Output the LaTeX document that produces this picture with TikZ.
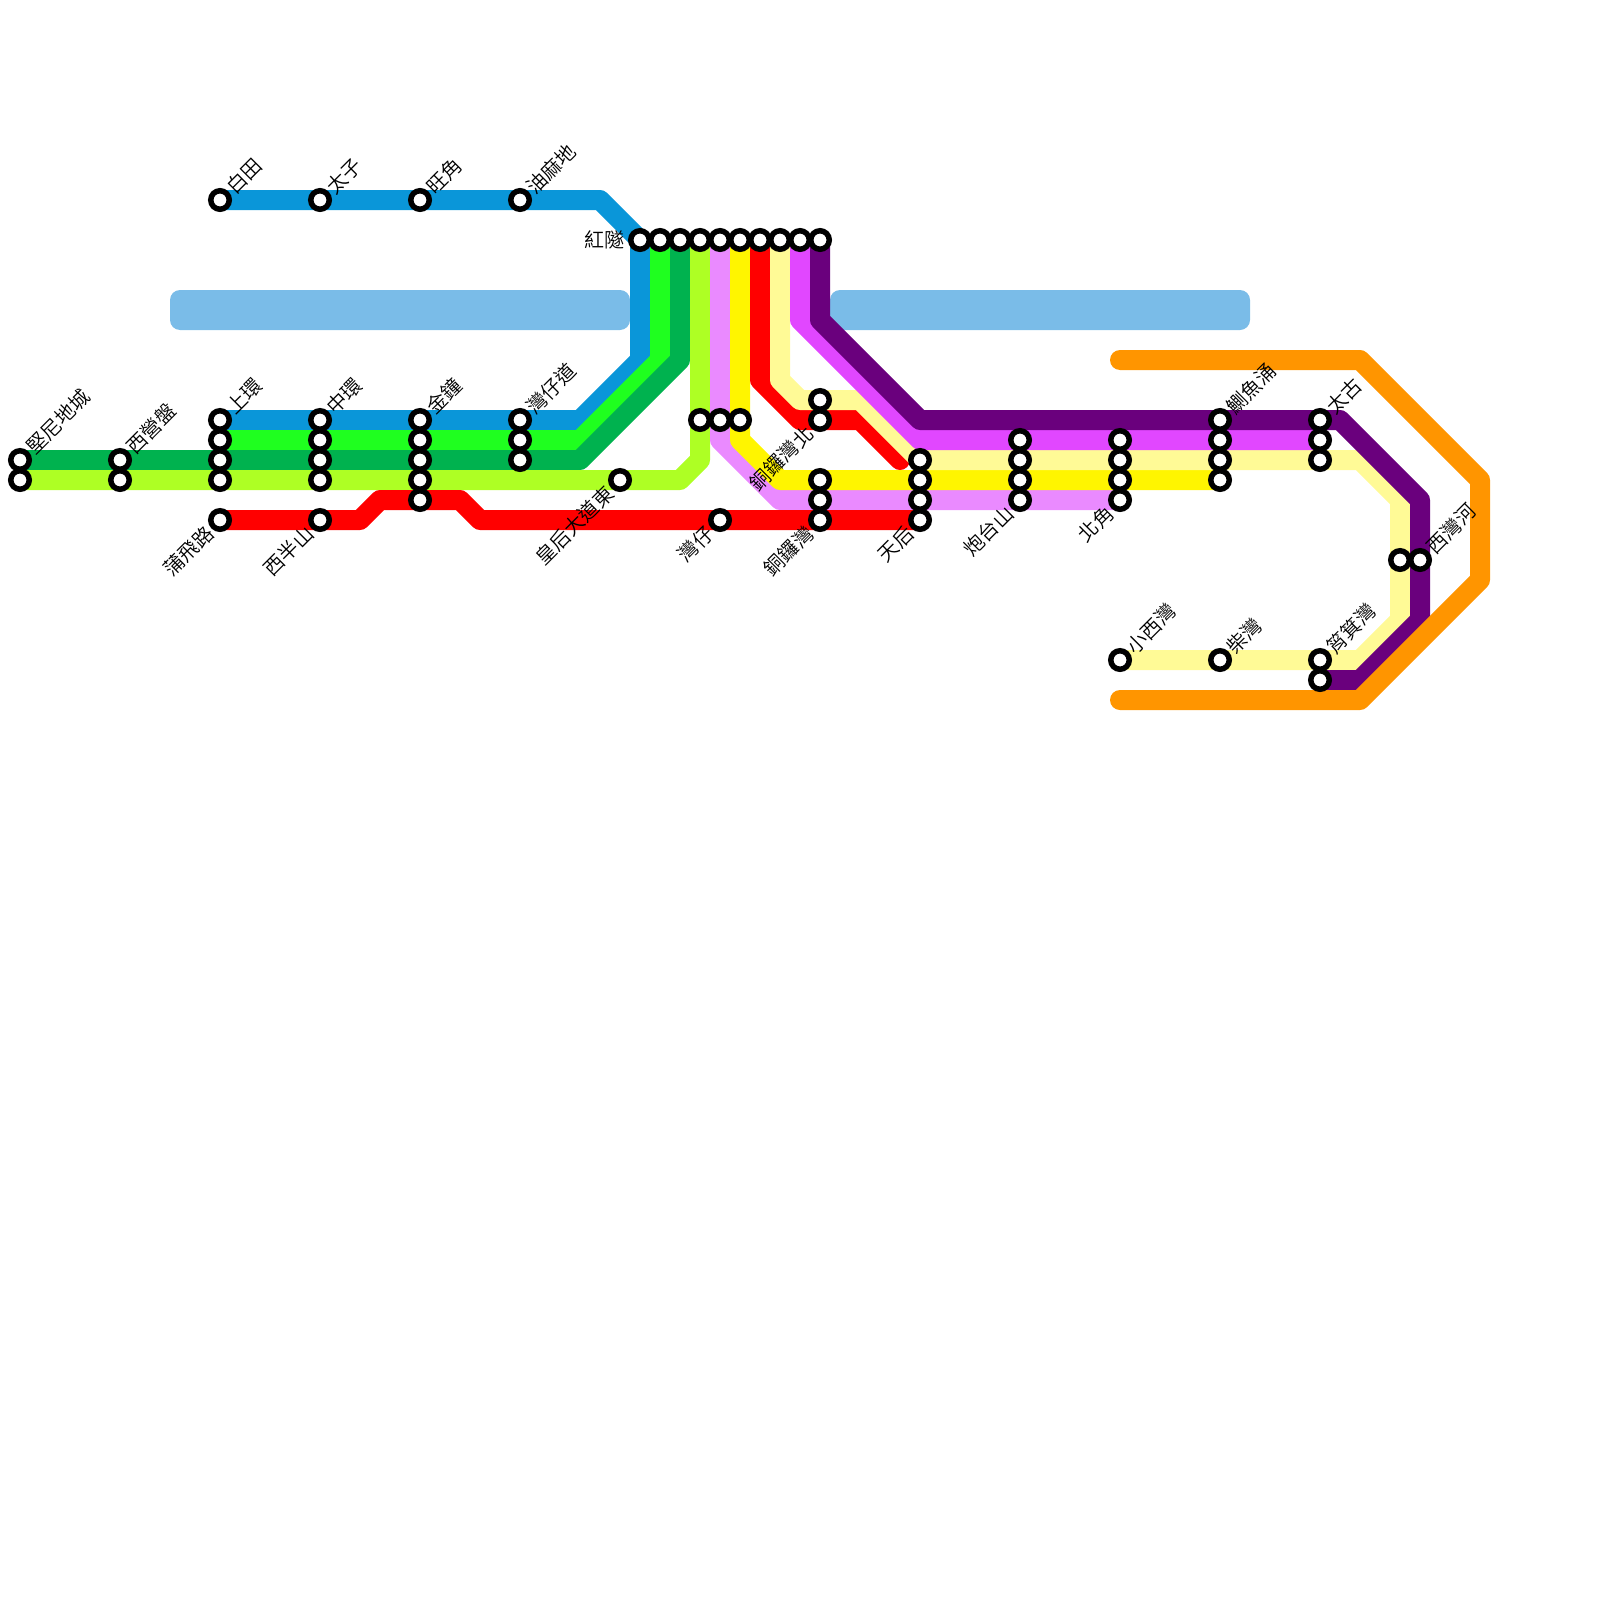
\documentclass[tikz,border=0pt]{standalone}
\usepackage{fontspec}
\setmainfont{Noto Sans CJK TC}[UprightFont=* DemiLight]
\usetikzlibrary{positioning, backgrounds}
\definecolor{lineblue}{HTML}{0A96D9}
\definecolor{linegreen}{HTML}{1FFF1F}
\definecolor{linedark}{HTML}{00B24F}
\definecolor{linelime}{HTML}{AEFF24}
\definecolor{linepink}{HTML}{EA8AFF}
\definecolor{lineyellow}{HTML}{FFF500}
\definecolor{linered}{HTML}{FF0000}
\definecolor{linepale}{HTML}{FFFA96}
\definecolor{linemagenta}{HTML}{E147FF}
\definecolor{linepurple}{HTML}{6A007D}
\definecolor{lineorange}{HTML}{FF9500}
\definecolor{waterbar}{HTML}{7ABCE8}
\tikzstyle{station} = [circle, draw=black, line width=5.5pt, fill=white, minimum size=18.5pt, inner sep=0pt]
\tikzstyle{metro} = [line width=20pt, line join=round, line cap=round]
\tikzstyle{bar} = [rectangle, fill=waterbar, rounded corners=10pt, minimum height=40pt]
\tikzstyle{labup} = [font=\fontsize{20}{24}\selectfont, inner sep=0pt, rotate=45, anchor=west]
\tikzstyle{labdown} = [font=\fontsize{20}{24}\selectfont, inner sep=0pt, rotate=45, anchor=east]
\tikzstyle{lableft} = [font=\fontsize{20}{24}\selectfont, inner sep=0pt, anchor=east]

\begin{document}
\begin{tikzpicture}[x=1pt, y=-1pt, on grid, node distance=20pt]
    \useasboundingbox (0,0) rectangle (1600,1600);
    % top row
    \node[station] (baitian) at (220,200) {};
    \node[station, right=100pt of baitian] (taizi) {};
    \node[station, right=100pt of taizi] (wangjiao) {};
    \node[station, right=100pt of wangjiao] (youma) {};
    % tunnel
    \node[station] (tunA) at (640,240) {};
    \node[station, right=of tunA] (tunB) {};
    \node[station, right=of tunB] (tunC) {};
    \node[station, right=of tunC] (tunD) {};
    \node[station, right=of tunD] (tunE) {};
    \node[station, right=of tunE] (tunF) {};
    \node[station, right=of tunF] (tunG) {};
    \node[station, right=of tunG] (tunH) {};
    \node[station, right=of tunH] (tunI) {};
    \node[station, right=of tunI] (tunJ) {};
    % island west
    \node[station] (jianA) at (20,460) {};
    \node[station, below=of jianA] (jianB) {};
    \node[station, right=100pt of jianA] (yingA) {};
    \node[station, below=of yingA] (yingB) {};
    \node[station] (shangA) at (220,420) {};
    \node[station, below=of shangA] (shangB) {};
    \node[station, below=of shangB] (shangC) {};
    \node[station, below=of shangC] (shangD) {};
    \node[station, below=40pt of shangD] (pufei) {};
    \node[station, right=100pt of shangA] (zhongA) {};
    \node[station, below=of zhongA] (zhongB) {};
    \node[station, below=of zhongB] (zhongC) {};
    \node[station, below=of zhongC] (zhongD) {};
    \node[station, below=40pt of zhongD] (xiban) {};
    \node[station, right=100pt of zhongA] (jinA) {};
    \node[station, below=of jinA] (jinB) {};
    \node[station, below=of jinB] (jinC) {};
    \node[station, below=of jinC] (jinD) {};
    \node[station, below=of jinD] (jinE) {};
    \node[station, right=100pt of jinA] (wanA) {};
    \node[station, below=of wanA] (wanB) {};
    \node[station, below=of wanB] (wanC) {};
    \node[station] (huang) at (620,480) {};
    % causeway
    \node[station] (midA) at (700,420) {};
    \node[station, right=of midA] (midB) {};
    \node[station, right=of midB] (midC) {};
    \node[station] (wanzai) at (720,520) {};
    \node[station] (northA) at (820,400) {};
    \node[station, below=of northA] (northB) {};
    \node[station] (tongA) at (820,480) {};
    \node[station, below=of tongA] (tongB) {};
    \node[station, below=of tongB] (tongC) {};
    \node[station] (tianA) at (920,460) {};
    \node[station, below=of tianA] (tianB) {};
    \node[station, below=of tianB] (tianC) {};
    \node[station, below=of tianC] (tianD) {};
    % island east
    \node[station] (paoA) at (1020,440) {};
    \node[station, below=of paoA] (paoB) {};
    \node[station, below=of paoB] (paoC) {};
    \node[station, below=of paoC] (paoD) {};
    \node[station, right=100pt of paoA] (beiA) {};
    \node[station, below=of beiA] (beiB) {};
    \node[station, below=of beiB] (beiC) {};
    \node[station, below=of beiC] (beiD) {};
    \node[station] (zeA) at (1220,420) {};
    \node[station, below=of zeA] (zeB) {};
    \node[station, below=of zeB] (zeC) {};
    \node[station, below=of zeC] (zeD) {};
    \node[station, right=100pt of zeA] (taiA) {};
    \node[station, below=of taiA] (taiB) {};
    \node[station, below=of taiB] (taiC) {};
    \node[station] (xiwanA) at (1400,560) {};
    \node[station, right=of xiwanA] (xiwanB) {};
    \node[station] (xiaoxi) at (1120,660) {};
    \node[station, right=100pt of xiaoxi] (chaiwan) {};
    \node[station, right=100pt of chaiwan] (shaoA) {};
    \node[station, below=of shaoA] (shaoB) {};
    % bends
    \coordinate (blueA) at (600,200);
    \coordinate (blueB) at (640,360);
    \coordinate (blueC) at (580,420);
    \coordinate (greenA) at (660,360);
    \coordinate (greenB) at (580,440);
    \coordinate (darkA) at (680,360);
    \coordinate (darkB) at (580,460);
    \coordinate (limeA) at (700,460);
    \coordinate (limeB) at (680,480);
    \coordinate (pinkA) at (720,440);
    \coordinate (pinkB) at (780,500);
    \coordinate (yellowA) at (740,440);
    \coordinate (yellowB) at (780,480);
    \coordinate (redA) at (360,520);
    \coordinate (redB) at (380,500);
    \coordinate (redC) at (460,500);
    \coordinate (redD) at (480,520);
    \coordinate (redE) at (760,380);
    \coordinate (redF) at (800,420);
    \coordinate (redG) at (860,420);
    \coordinate (redH) at (900,460);
    \coordinate (paleA) at (780,380);
    \coordinate (paleB) at (800,400);
    \coordinate (paleC) at (860,400);
    \coordinate (paleD) at (1360,460);
    \coordinate (paleE) at (1400,500);
    \coordinate (paleF) at (1400,620);
    \coordinate (paleG) at (1360,660);
    \coordinate (magA) at (800,320);
    \coordinate (magB) at (920,440);
    \coordinate (purpleA) at (820,320);
    \coordinate (purpleF) at (920,420);
    \coordinate (purpleB) at (1340,420);
    \coordinate (purpleC) at (1420,500);
    \coordinate (purpleD) at (1420,620);
    \coordinate (purpleE) at (1360,680);
    \coordinate (orangeA) at (1120,360);
    \coordinate (orangeB) at (1360,360);
    \coordinate (orangeC) at (1480,480);
    \coordinate (orangeD) at (1480,580);
    \coordinate (orangeE) at (1360,700);
    \coordinate (orangeF) at (1120,700);
    % lines under the stations
    \begin{scope}[on background layer]
    \node[bar, minimum width=460pt] (barW) at (400,310) {};
    \node[bar, minimum width=420pt] (barE) at (1040,310) {};
    \draw[metro, lineblue] (baitian.center) -- (blueA) -- (tunA.center) -- (blueB) -- (blueC) -- (shangA.center);
    \draw[metro, linegreen] (tunB.center) -- (greenA) -- (greenB) -- (shangB.center);
    \draw[metro, linedark] (tunC.center) -- (darkA) -- (darkB) -- (jianA.center);
    \draw[metro, linelime] (tunD.center) -- (limeA) -- (limeB) -- (jianB.center);
    \draw[metro, linepink] (tunE.center) -- (pinkA) -- (pinkB) -- (beiD.center);
    \draw[metro, lineyellow] (tunF.center) -- (yellowA) -- (yellowB) -- (zeD.center);
    \draw[metro, linered] (pufei.center) -- (redA) -- (redB) -- (redC) -- (redD) -- (tianD.center);
    \draw[metro, linered] (tunG.center) -- (redE) -- (redF) -- (redG) -- (redH);
    \draw[metro, linepale] (tunH.center) -- (paleA) -- (paleB) -- (paleC) -- (tianA.center) -- (paleD) -- (paleE) -- (paleF) -- (paleG) -- (xiaoxi.center);
    \draw[metro, linemagenta] (tunI.center) -- (magA) -- (magB) -- (taiB.center);
    \draw[metro, linepurple] (tunJ.center) -- (purpleA) -- (purpleF) -- (purpleB) -- (purpleC) -- (purpleD) -- (purpleE) -- (shaoB.center);
    \draw[metro, lineorange] (orangeA) -- (orangeB) -- (orangeC) -- (orangeD) -- (orangeE) -- (orangeF);
    \end{scope}
    % labels
    \node[labup] (lbaitian) at ([shift={(10,-10)}]baitian.center) {白田};
    \node[labup] (ltaizi) at ([shift={(10,-10)}]taizi.center) {太子};
    \node[labup] (lwangjiao) at ([shift={(10,-10)}]wangjiao.center) {旺角};
    \node[labup] (lyouma) at ([shift={(10,-10)}]youma.center) {油麻地};
    \node[lableft] (ltun) at ([shift={(-15,0)}]tunA.center) {紅隧};
    \node[labup] (ljian) at ([shift={(10,-10)}]jianA.center) {堅尼地城};
    \node[labup] (lying) at ([shift={(10,-10)}]yingA.center) {西營盤};
    \node[labup] (lshang) at ([shift={(10,-10)}]shangA.center) {上環};
    \node[labup] (lzhong) at ([shift={(10,-10)}]zhongA.center) {中環};
    \node[labup] (ljin) at ([shift={(10,-10)}]jinA.center) {金鐘};
    \node[labup] (lwan) at ([shift={(10,-10)}]wanA.center) {灣仔道};
    \node[labup] (lze) at ([shift={(10,-10)}]zeA.center) {鰂魚涌};
    \node[labup] (ltai) at ([shift={(10,-10)}]taiA.center) {太古};
    \node[labup] (lxiwan) at ([shift={(10,-10)}]xiwanB.center) {西灣河};
    \node[labup] (lxiaoxi) at ([shift={(10,-10)}]xiaoxi.center) {小西灣};
    \node[labup] (lchai) at ([shift={(10,-10)}]chaiwan.center) {柴灣};
    \node[labup] (lshao) at ([shift={(10,-10)}]shaoA.center) {筲箕灣};
    \node[labdown] (lpufei) at ([shift={(-10,10)}]pufei.center) {蒲飛路};
    \node[labdown] (lxiban) at ([shift={(-10,10)}]xiban.center) {西半山};
    \node[labdown] (lhuang) at ([shift={(-10,10)}]huang.center) {皇后大道東};
    \node[labdown] (lwanzai) at ([shift={(-10,10)}]wanzai.center) {灣仔};
    \node[labdown] (lnorth) at ([shift={(-10,10)}]northB.center) {銅鑼灣北};
    \node[labdown] (ltong) at ([shift={(-10,10)}]tongC.center) {銅鑼灣};
    \node[labdown] (ltian) at ([shift={(-10,10)}]tianD.center) {天后};
    \node[labdown] (lpao) at ([shift={(-10,10)}]paoD.center) {炮台山};
    \node[labdown] (lbei) at ([shift={(-10,10)}]beiD.center) {北角};
\end{tikzpicture}
\end{document}
